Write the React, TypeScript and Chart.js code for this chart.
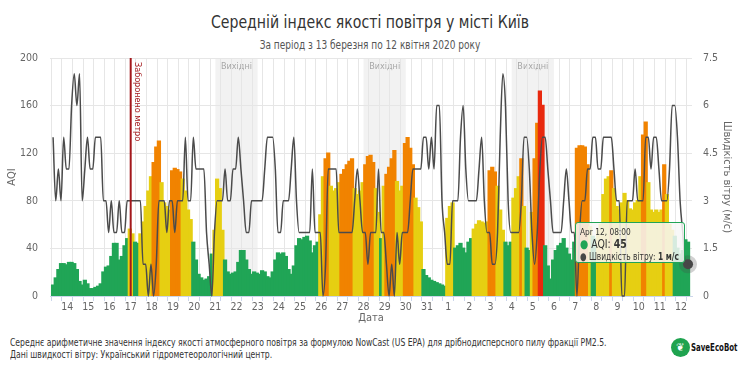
import React, { useEffect, useRef, useState } from 'react';
import { Chart, registerables } from 'chart.js';

Chart.register(...registerables);

const FONT = '"Liberation Sans Narrow", "DejaVu Sans Condensed", "Arial Narrow", sans-serif';

const TITLE = 'Середній індекс якості повітря у місті Київ';
const SUBTITLE = 'За період з 13 березня по 12 квітня 2020 року';
const NOTE_1 =
  'Середнє арифметичне значення індексу якості атмосферного повітря за формулою NowCast (US EPA) для дрібнодисперсного пилу фракції PM2.5.';
const NOTE_2 = 'Дані швидкості вітру: Український гідрометеорологічний центр.';

// index 0 = 13 March 2020
const dayLabels = [
  '13', '14', '15', '16', '17', '18', '19', '20', '21', '22', '23', '24', '25', '26', '27', '28', '29', '30', '31',
  '1', '2', '3', '4', '5', '6', '7', '8', '9', '10', '11', '12',
];
const weekendStartDays = [8, 15, 22]; // 21 Mar, 28 Mar, 4 Apr (Saturdays)
const metroClosedDay = 4; // 17 Mar
const firstHour = 8; // 13 Mar 08:00, hours since 13 Mar 00:00
const stepHours = 3;

// AQI (PM2.5 NowCast), every 3 hours from 13 Mar 08:00 to 12 Apr 08:00
const aqi = [
  9, 15, 22, 27, 27, 26, // 13
  28, 28, 27, 22, 12, 9, 13, 10, // 14
  6, 6, 7, 8, 10, 20, 24, 25, // 15
  33, 44, 44, 30, 33, 42, 48, 56, // 16
  52, 45, 44, 52, 62, 75, 88, 100, // 17
  112, 125, 130, 95, 78, 75, 72, 105, // 18
  107, 106, 104, 98, 88, 72, 64, 45, // 19
  30, 18, 15, 13, 14, 16, 35, 55, // 20
  98, 90, 55, 30, 20, 18, 19, 20, // 21
  28, 38, 38, 30, 22, 18, 20, 19, // 22
  18, 21, 20, 16, 15, 20, 30, 36, // 23
  35, 36, 33, 22, 18, 25, 42, 48, // 24
  47, 49, 50, 46, 36, 42, 45, 68, // 25
  100, 115, 120, 92, 88, 90, 95, 102, // 26
  106, 110, 113, 115, 90, 85, 88, 95, // 27
  110, 117, 118, 112, 90, 70, 48, 92, // 28
  102, 108, 115, 122, 96, 88, 92, 128, // 29
  133, 124, 110, 82, 74, 62, 22, 17, // 30
  15, 13, 12, 11, 10, 9, 8, 65, // 31
  75, 78, 40, 42, 44, 40, 36, 45, // 1
  48, 56, 60, 63, 62, 61, 62, 105, // 2
  108, 104, 92, 72, 55, 45, 42, 45, // 3
  82, 90, 100, 115, 75, 40, 38, 70, // 4
  115, 145, 172, 160, 42, 25, 14, 30, // 5
  38, 42, 44, 48, 40, 35, 30, 45, // 6
  124, 126, 126, 125, 110, 58, 50, 48, // 7
  55, 60, 85, 98, 100, 105, 90, 75, // 8
  72, 78, 86, 80, 73, 72, 78, 80, // 9
  100, 135, 146, 95, 72, 70, 72, 70, // 10
  72, 110, 85, 60, 55, 50, 40, 35, // 11
  38, 47, 45, // 12
];

// wind speed, m/s, same times
const wind = [
  5, 3, 4, 3, 5, 4, // 13
  4, 6, 7, 6, 7, 3, 4, 5, // 14
  4, 4, 5, 5, 5, 3, 3, 2, // 15
  3, 2, 2, 3, 2, 2, 3, 3, // 16
  3, 3, 3, 3, 1, 1, 0, 1, // 17
  0, 1, 3, 3, 3, 2, 3, 3, // 18
  2, 3, 3, 3, 5, 3, 3, 5, // 19
  4, 4, 4, 4, 2, 1, 0, 2, // 20
  3, 3, 3, 4, 3, 3, 4, 4, // 21
  5, 4, 3, 2, 2, 3, 3, 3, // 22
  3, 3, 4, 5, 5, 5, 4, 2, // 23
  2, 3, 3, 3, 4, 5, 3, 2, // 24
  2, 2, 2, 2, 4, 2, 2, 2, // 25
  0, 1, 4, 4, 4, 4, 2, 2, // 26
  2, 2, 2, 2, 3, 4, 3, 2, // 27
  2, 1, 2, 2, 2, 4, 2, 2, // 28
  1, 0, 1, 0, 2, 1, 2, 2, // 29
  2, 3, 4, 4, 4, 4, 5, 5, // 30
  4, 5, 4, 6, 6, 3, 2, 1, // 31
  1, 3, 3, 3, 5, 6, 4, 3, // 1
  3, 3, 3, 4, 5, 3, 2, 2, // 2
  1, 1, 2, 5, 7, 6, 3, 2, // 3
  2, 2, 2, 3, 5, 5, 4, 2, // 4
  1, 2, 4, 5, 5, 4, 3, 2, // 5
  2, 2, 2, 3, 4, 3, 2, 2, // 6
  0, 2, 3, 3, 4, 4, 5, 5, // 7
  4, 4, 5, 5, 5, 5, 4, 3, // 8
  3, 0, 0, 3, 3, 3, 4, 3, // 9
  3, 3, 5, 5, 4, 5, 5, 4, // 10
  3, 3, 3, 4, 6, 6, 5, 3, // 11
  2, 1, 1, // 12
];

const GREEN = '#20a556';
const YELLOW = '#e6cf12';
const ORANGE = '#f18300';
const RED = '#e8290e';
const aqiColor = (v: number) => (v <= 50 ? GREEN : v <= 100 ? YELLOW : v <= 150 ? ORANGE : RED);

const MONTHS = ['Jan', 'Feb', 'Mar', 'Apr', 'May', 'Jun', 'Jul', 'Aug', 'Sep', 'Oct', 'Nov', 'Dec'];

export default function App() {
  const canvasRef = useRef<HTMLCanvasElement | null>(null);
  const [tip, setTip] = useState<{ x: number; y: number } | null>(null);

  const lastIndex = aqi.length - 1;
  const lastHour = firstHour + stepHours * lastIndex;
  const lastDate = new Date(Date.UTC(2020, 2, 13) + lastHour * 3600 * 1000);
  const tipTitle = `${MONTHS[lastDate.getUTCMonth()]} ${lastDate.getUTCDate()}, ${String(lastDate.getUTCHours()).padStart(2, '0')}:00`;

  useEffect(() => {
    const canvas = canvasRef.current;
    if (!canvas) return;

    const aqiPts = aqi.map((v, i) => ({ x: firstHour + i * stepHours, y: v }));
    const windPts = wind.map((v, i) => ({ x: firstHour + i * stepHours, y: v }));

    const tickValues: number[] = [];
    for (let d = 0; d < dayLabels.length; d++) {
      tickValues.push(d * 24, d * 24 + 6, d * 24 + 18);
    }

    const overlay = {
      id: 'overlay',
      beforeDraw(chart: any) {
        const { ctx, chartArea, scales } = chart;
        const x = scales.x;
        ctx.save();
        weekendStartDays.forEach((d) => {
          const x0 = x.getPixelForValue(d * 24);
          const x1 = x.getPixelForValue((d + 2) * 24);
          ctx.fillStyle = 'rgba(0,0,0,0.05)';
          ctx.fillRect(x0, chartArea.top, x1 - x0, chartArea.bottom - chartArea.top);
          ctx.fillStyle = '#a6a6a6';
          ctx.font = `9px ${FONT}`;
          ctx.textAlign = 'center';
          ctx.textBaseline = 'middle';
          ctx.fillText('Вихідні', (x0 + x1) / 2, chartArea.top + 9);
        });
        ctx.restore();
      },
      afterDatasetsDraw(chart: any) {
        const { ctx, chartArea, scales } = chart;
        const xp = scales.x.getPixelForValue(metroClosedDay * 24);
        ctx.save();
        ctx.strokeStyle = '#a3181c';
        ctx.lineWidth = 2;
        ctx.beginPath();
        ctx.moveTo(xp, chartArea.top);
        ctx.lineTo(xp, chartArea.bottom);
        ctx.stroke();
        ctx.translate(xp + 2, chartArea.top + 4);
        ctx.rotate(Math.PI / 2);
        ctx.fillStyle = '#a3181c';
        ctx.font = `9px ${FONT}`;
        ctx.textAlign = 'left';
        ctx.textBaseline = 'bottom';
        ctx.fillText('Заборонено метро', 0, 0);
        ctx.restore();
      },
    };

    const chart = new Chart(canvas, {
      type: 'bar',
      data: {
        datasets: [
          {
            type: 'line',
            label: 'Швидкість вітру',
            data: windPts,
            yAxisID: 'y1',
            borderColor: '#4b4b4b',
            borderWidth: 1.5,
            cubicInterpolationMode: 'monotone',
            pointRadius: (c: any) => (c.dataIndex === lastIndex ? 5 : 0),
            pointBackgroundColor: '#474747',
            pointBorderColor: 'rgba(70,70,70,0.25)',
            pointBorderWidth: 8,
            clip: false as any,
            order: 0,
          } as any,
          {
            type: 'bar',
            label: 'AQI',
            data: aqiPts,
            yAxisID: 'y',
            backgroundColor: (c: any) => aqiColor(c.raw ? c.raw.y : 0),
            borderWidth: 0,
            barThickness: 'flex',
            barPercentage: 1,
            categoryPercentage: 1,
            inflateAmount: 0.8,
            order: 1,
          } as any,
        ],
      },
      plugins: [overlay],
      options: {
        animation: false,
        responsive: false,
        devicePixelRatio: 1,
        events: [],
        layout: { padding: { top: 58, left: 0, right: 0, bottom: 0 } },
        plugins: { legend: { display: false }, tooltip: { enabled: false } },
        scales: {
          x: {
            type: 'linear',
            min: 4.5,
            max: 732.5,
            offset: false,
            afterBuildTicks: (scale: any) => {
              scale.ticks = tickValues
                .filter((v) => v >= scale.min && v <= scale.max)
                .map((value) => ({ value }));
            },
            afterFit: (scale: any) => {
              scale.height = 32;
            },
            ticks: {
              autoSkip: false,
              maxRotation: 0,
              padding: 0,
              color: '#666',
              font: { size: 10.5, family: FONT },
              callback: (v: any) => (v % 24 === 0 ? dayLabels[v / 24] : ''),
            },
            grid: {
              offset: false,
              tickLength: 5,
              color: (c: any) => (c.tick && c.tick.value % 24 !== 0 ? '#e6e6e6' : 'rgba(0,0,0,0)'),
              tickColor: (c: any) => (c.tick && c.tick.value % 24 !== 0 ? '#ccd6eb' : 'rgba(0,0,0,0)'),
            },
            border: { color: '#ccd6eb' },
            title: {
              display: true,
              text: 'Дата',
              color: '#666',
              font: { size: 11, family: FONT },
              padding: { top: 0, bottom: 3 },
            },
          },
          y: {
            position: 'left',
            min: 0,
            max: 200,
            afterFit: (scale: any) => {
              scale.width = 50;
            },
            ticks: { stepSize: 40, color: '#666', padding: 12, font: { size: 10.5, family: FONT } },
            grid: { color: '#e6e6e6', drawTicks: false },
            border: { display: false },
            title: {
              display: true,
              text: 'AQI',
              color: '#666',
              font: { size: 11, family: FONT },
              padding: { top: 6, bottom: 0 },
            },
          },
          y1: {
            position: 'right',
            min: 0,
            max: 7.5,
            afterFit: (scale: any) => {
              scale.width = 48;
            },
            ticks: {
              stepSize: 1.5,
              color: '#666',
              padding: 11,
              font: { size: 10.5, family: FONT },
              callback: (v: any) => String(v),
            },
            grid: { drawOnChartArea: false, drawTicks: false },
            border: { display: false },
            title: {
              display: true,
              text: 'Швидкість вітру (м/с)',
              color: '#666',
              font: { size: 11, family: FONT },
              padding: { top: 7, bottom: 0 },
            },
          },
        },
      } as any,
    });

    const pt: any = chart.getDatasetMeta(0).data[lastIndex];
    if (pt) setTip({ x: pt.x, y: pt.y });

    return () => {
      chart.destroy();
    };
  }, []);

  return (
    <div
      style={{
        position: 'absolute',
        left: 0,
        top: 0,
        width: 740,
        height: 369,
        background: '#fff',
        overflow: 'hidden',
        fontFamily: FONT,
      }}
    >
      <div
        style={{
          position: 'absolute',
          left: 0,
          top: 11,
          width: 740,
          textAlign: 'center',
          fontSize: 18,
          color: '#333',
          lineHeight: '22px',
          transform: 'scaleX(0.87)',
          transformOrigin: '370px 0',
        }}
      >
        {TITLE}
      </div>
      <div
        style={{
          position: 'absolute',
          left: 0,
          top: 37,
          width: 740,
          textAlign: 'center',
          fontSize: 11.5,
          color: '#555',
          lineHeight: '16px',
          transform: 'scaleX(0.87)',
          transformOrigin: '370px 0',
        }}
      >
        {SUBTITLE}
      </div>
      <canvas
        ref={canvasRef}
        width={740}
        height={328}
        style={{ position: 'absolute', left: 0, top: 0, width: 740, height: 328 }}
      />
      {tip && (
        <div
          style={{
            position: 'absolute',
            left: tip.x - 3 - 110,
            top: tip.y - 42,
            width: 110,
            height: 41,
            boxSizing: 'border-box',
            background: 'rgba(247,247,247,0.85)',
            border: `1px solid ${GREEN}`,
            borderRadius: 3,
            padding: '4px 0 0 4px',
            color: '#333',
            lineHeight: '10px',
            whiteSpace: 'nowrap',
          }}
        >
          <div style={{ fontSize: 9.5, marginBottom: 1, transform: 'scaleX(0.87)', transformOrigin: '0 0' }}>
            {tipTitle}
          </div>
          <div style={{ fontSize: 12, lineHeight: '12px', transform: 'scaleX(0.87)', transformOrigin: '0 0' }}>
            <span style={{ color: GREEN }}>●</span> AQI: <b>{aqi[lastIndex]}</b>
          </div>
          <div style={{ fontSize: 10.5, lineHeight: '12px', transform: 'scaleX(0.79)', transformOrigin: '0 0' }}>
            <span style={{ color: '#474747' }}>●</span> Швидкість вітру: <b>{wind[lastIndex]} м/с</b>
          </div>
        </div>
      )}
      <div
        style={{
          position: 'absolute',
          left: 10,
          top: 337,
          fontSize: 10,
          lineHeight: '12px',
          color: '#333',
          whiteSpace: 'nowrap',
          transform: 'scaleX(0.855)',
          transformOrigin: '0 0',
        }}
      >
        <div>{NOTE_1}</div>
        <div>{NOTE_2}</div>
      </div>
      <div style={{ position: 'absolute', left: 671, top: 338, display: 'flex', alignItems: 'center' }}>
        <div
          style={{
            width: 19,
            height: 19,
            borderRadius: '50%',
            background: '#1fa34f',
            color: '#fff',
            fontSize: 11,
            fontWeight: 'bold',
            display: 'flex',
            alignItems: 'center',
            justifyContent: 'center',
          }}
        >
          ❦
        </div>
        <div
          style={{
            marginLeft: 1,
            fontSize: 10,
            fontWeight: 'bold',
            color: '#111',
            transform: 'scaleX(0.78)',
            transformOrigin: '0 50%',
          }}
        >
          SaveEcoBot
        </div>
      </div>
    </div>
  );
}
